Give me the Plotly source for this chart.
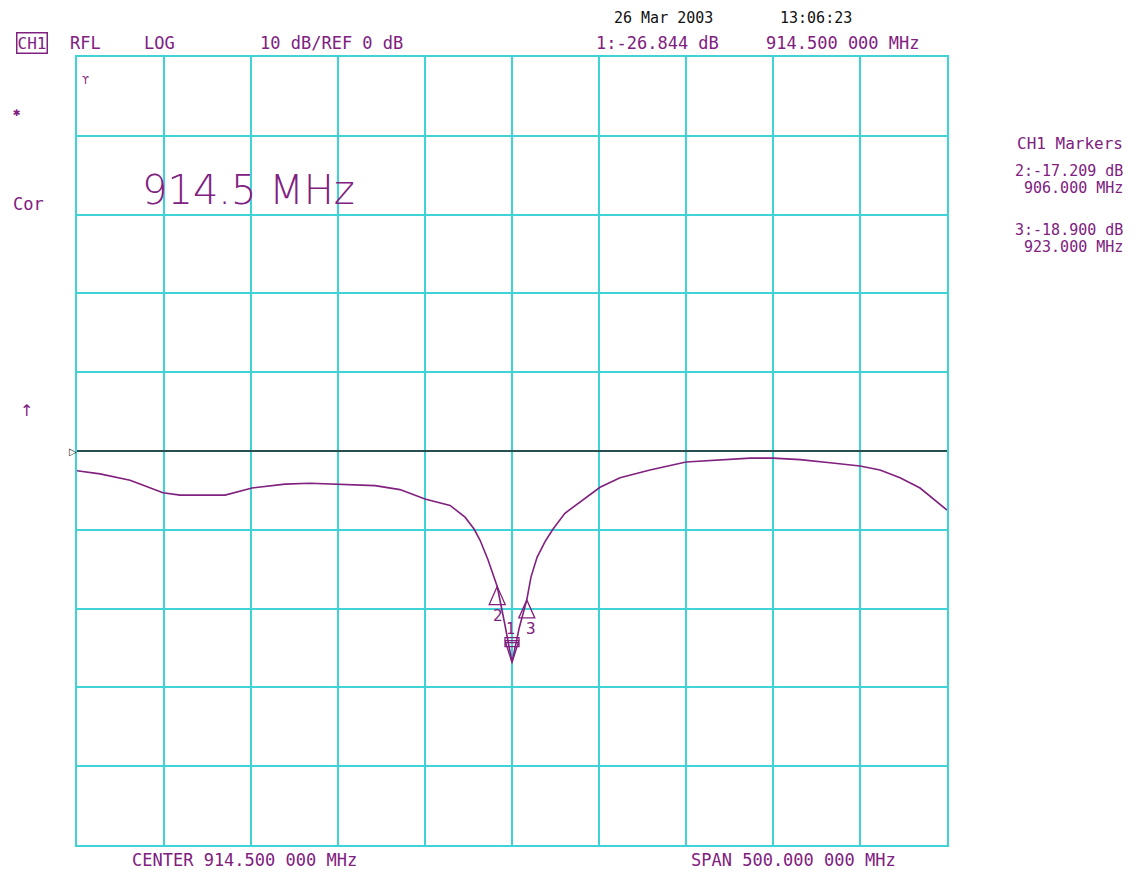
import plotly.graph_objects as go

# ---- data ----
freq_mhz = [664.5, 677.7, 695.0, 713.9, 723.7, 749.6, 765.1, 784.0, 798.4, 814.5,
            835.8, 850.1, 864.5, 878.9, 887.5, 892.7, 896.1, 900.7, 904.7, 906.0,
            910.2, 914.5, 918.6, 923.0, 925.4, 928.9, 933.5, 938.1, 944.9, 953.6,
            965.1, 976.6, 993.8, 1014.5, 1034.1, 1051.3, 1064.5, 1080.0, 1097.3,
            1114.5, 1126.0, 1137.5, 1149.0, 1164.5]
s11_db = [-2.5, -2.9, -3.7, -5.3, -5.6, -5.6, -4.7, -4.2, -4.1, -4.2,
          -4.4, -4.9, -6.1, -6.9, -8.4, -9.9, -11.3, -13.8, -16.4, -17.2,
          -21.8, -26.8, -22.5, -18.9, -16.0, -13.5, -11.5, -9.9, -7.9, -6.5,
          -4.6, -3.4, -2.4, -1.4, -1.1, -0.9, -0.9, -1.1, -1.5,
          -1.9, -2.4, -3.4, -4.7, -7.5]

marker_ids = ["1", "2", "3"]
marker_freq = [914.5, 906.0, 923.0]
marker_db = [-26.844, -17.209, -18.900]

center_mhz = 914.5
span_mhz = 500.0
db_per_div = 10
ref_db = 0

PURPLE = "#80207f"
CYAN = "#3fd3d8"
MONO = "DejaVu Sans Mono"

fig = go.Figure()
fig.add_trace(go.Scatter(x=freq_mhz, y=s11_db, mode="lines",
                         line=dict(color=PURPLE, width=1.6), hoverinfo="skip",
                         showlegend=False))

# reference line
fig.add_shape(type="line", xref="paper", x0=0, x1=1, yref="y", y0=ref_db, y1=ref_db,
              line=dict(color="#222222", width=1.6))
fig.add_annotation(xref="paper", x=-0.0115, yref="y", y=ref_db, text="▷", showarrow=False,
                   font=dict(family="DejaVu Sans", size=10, color="#222222"))

# markers
for mid, mf, md in zip(marker_ids, marker_freq, marker_db):
    if mid == "1":
        path = "M0,0 L-7,22 L7,22 Z M-7,16 L7,16 L7,25 L-7,25 Z M-7,20 L7,20"
        fig.add_shape(type="path", xref="x", yref="y", xsizemode="pixel", ysizemode="pixel",
                      xanchor=mf, yanchor=md, path=path, line=dict(color=PURPLE, width=1.3))
        fig.add_annotation(x=mf, y=md, text=mid, showarrow=False, xshift=-2, yshift=34,
                           font=dict(family=MONO, size=15, color=PURPLE))
    else:
        path = "M0,0 L-8,-18 L8,-18 Z"
        fig.add_shape(type="path", xref="x", yref="y", xsizemode="pixel", ysizemode="pixel",
                      xanchor=mf, yanchor=md, path=path, line=dict(color=PURPLE, width=1.3))
        dx = 1 if mid == "2" else 4
        fig.add_annotation(x=mf, y=md, text=mid, showarrow=False, xshift=dx, yshift=-29,
                           font=dict(family=MONO, size=16, color=PURPLE))

def ann(x, y, text, size=17, color=PURPLE, family=MONO, xanchor="center", **kw):
    fig.add_annotation(xref="paper", yref="paper", x=x, y=y, text=text, showarrow=False,
                       xanchor=xanchor, yanchor="middle",
                       font=dict(family=family, size=size, color=color, **kw))

# header
fig.add_annotation(xref="paper", yref="paper", x=-0.0517, y=1.0178, text="CH1", showarrow=False,
                   xanchor="center", yanchor="middle",
                   font=dict(family=MONO, size=16, color=PURPLE), bordercolor=PURPLE,
                   borderwidth=1.5, borderpad=0)
ann(0.0103, 1.0178, "RFL")
ann(0.0954, 1.0178, "LOG")
ann(0.293, 1.0178, f"{db_per_div} dB/REF {ref_db} dB")
ann(0.6747, 1.0495, "26 Mar 2003", size=15, color="#111111")
ann(0.8494, 1.0495, "13:06:23", size=15, color="#111111")
ann(0.6667, 1.0178, f"1:{marker_db[0]:.3f} dB")
ann(0.8805, 1.0178, "914.500 000 MHz")

# right side marker list
ann(1.2046, 0.8896, "CH1 Markers", size=16, xanchor="right")
ann(1.2046, 0.855, f"2:{marker_db[1]:.3f} dB", size=15, xanchor="right")
ann(1.2046, 0.8338, f"{marker_freq[1]:.3f} MHz", size=15, xanchor="right")
ann(1.2046, 0.780, f"3:{marker_db[2]:.3f} dB", size=15, xanchor="right")
ann(1.2046, 0.7595, f"{marker_freq[2]:.3f} MHz", size=15, xanchor="right")

# left status
ann(-0.069, 0.930, "✱", size=12)
ann(-0.0563, 0.8135, "Cor")
ann(-0.0586, 0.5508, "↑", size=16, family="DejaVu Sans")
ann(0.0092, 0.9708, "ϒ", size=10, family="DejaVu Sans")

# big frequency label
ann(0.1977, 0.8312, "914.5 MHz", size=40, family="DejaVu Sans", weight=200)

# footer
ann(0.193, -0.019, "CENTER 914.500 000 MHz")
ann(0.824, -0.019, "SPAN 500.000 000 MHz")

x0 = center_mhz - span_mhz / 2
x1 = center_mhz + span_mhz / 2
fig.update_xaxes(range=[x0, x1], tick0=x0, dtick=span_mhz / 10, showticklabels=False,
                 ticks="", showgrid=True, gridcolor=CYAN, gridwidth=2, zeroline=False,
                 showline=True, linecolor=CYAN, linewidth=2, mirror=True, fixedrange=True)
fig.update_yaxes(range=[ref_db - 5 * db_per_div, ref_db + 5 * db_per_div], tick0=ref_db,
                 dtick=db_per_div, showticklabels=False, ticks="", showgrid=True,
                 gridcolor=CYAN, gridwidth=2, zeroline=False, showline=True, linecolor=CYAN,
                 linewidth=2, mirror=True, fixedrange=True)
fig.update_layout(width=1128, height=864, margin=dict(l=69, r=189, t=49, b=27),
                  paper_bgcolor="white", plot_bgcolor="white", showlegend=False)

fig.write_html("out.html")
